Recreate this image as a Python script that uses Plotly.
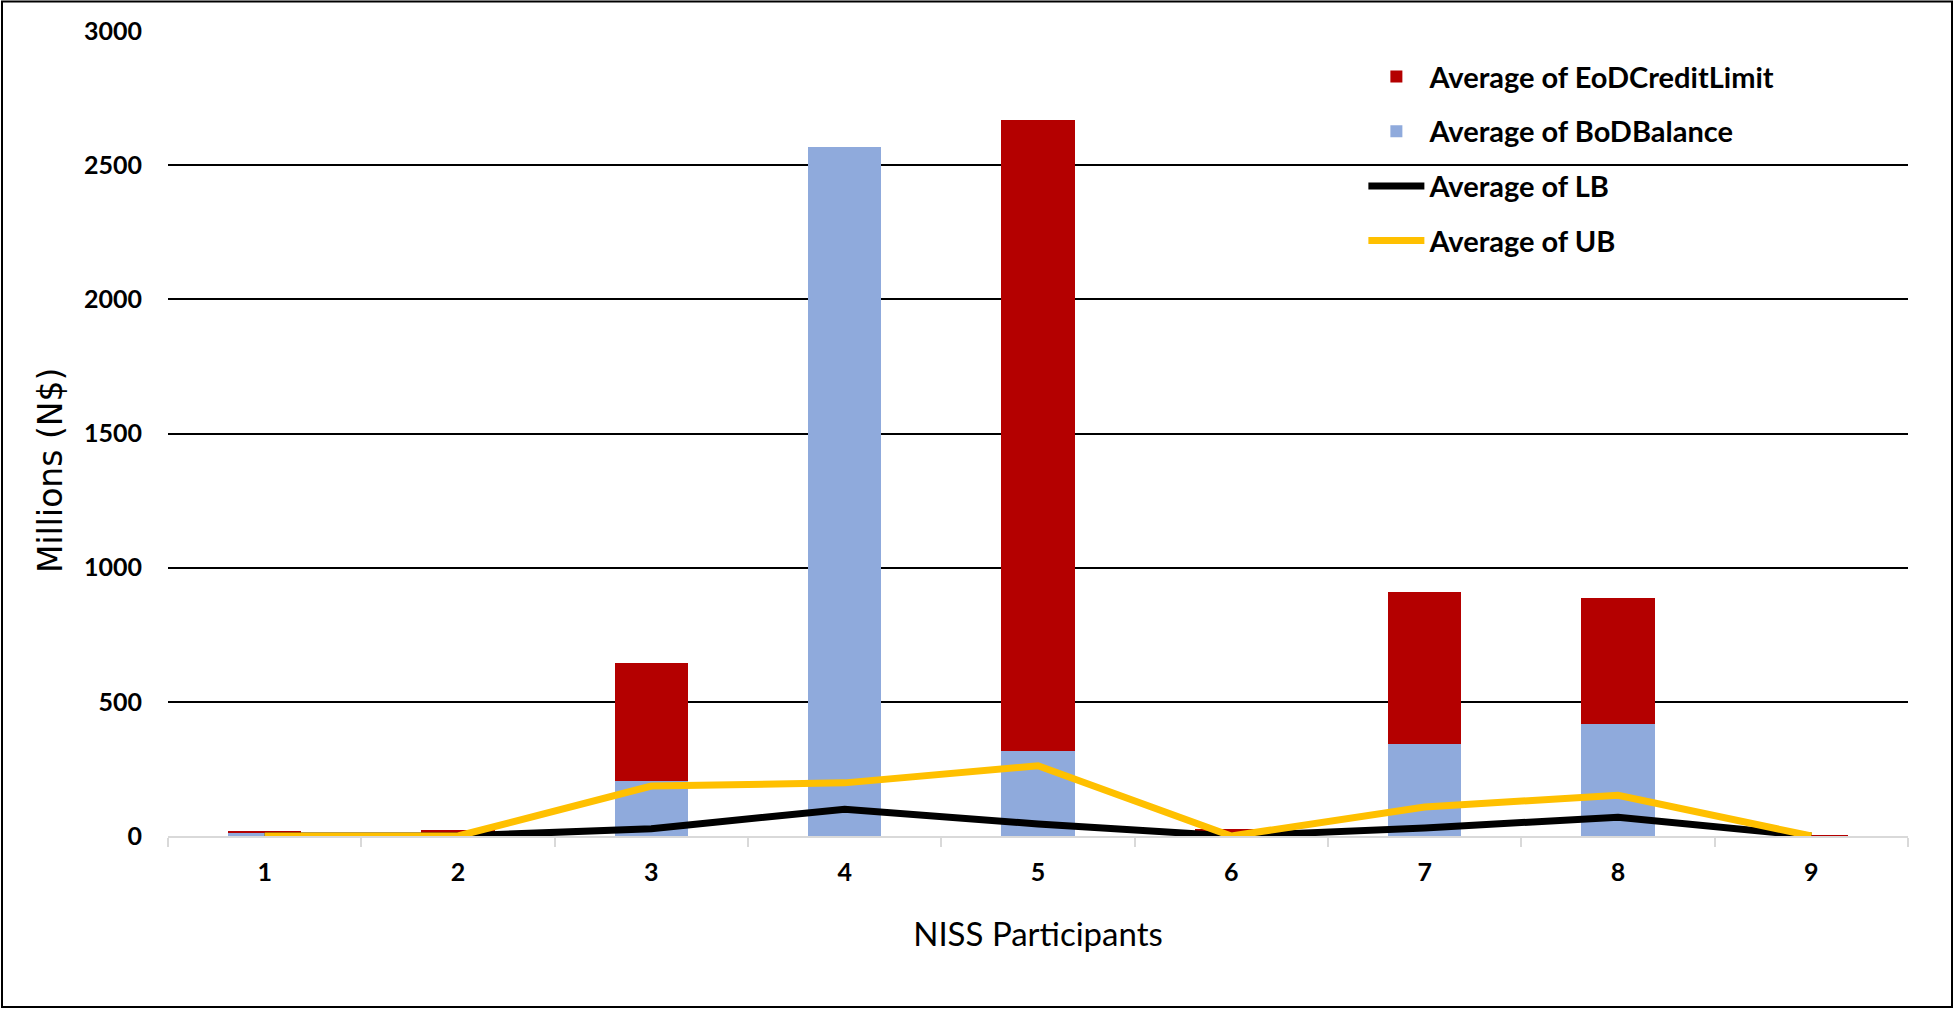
import plotly.graph_objects as go

categories = ["1", "2", "3", "4", "5", "6", "7", "8", "9"]
bod_balance = [14, 12, 205, 2568, 317, 2, 343, 417, 1]
eod_credit_limit = [1, 12, 440, 0, 2353, 23, 566, 470, 2]
lb = [0, 0, 27, 100, 45, 0, 30, 70, 0]
ub = [0, 0, 186, 198, 262, 0, 108, 152, 0]
y_ticks = [0, 500, 1000, 1500, 2000, 2500, 3000]

RED = "#b40000"
BLUE = "#8faadc"
YEL = "#ffc000"
FONT = "Lato"

fig = go.Figure()
fig.add_trace(go.Bar(x=categories, y=bod_balance, name="Average of BoDBalance",
                     marker=dict(color=BLUE, line=dict(width=0)), legendrank=2,
                     legendgroup="b"))
fig.add_trace(go.Bar(x=categories, y=eod_credit_limit, name="Average of EoDCreditLimit",
                     marker=dict(color=RED, line=dict(width=0)), legendrank=1,
                     legendgroup="a"))
fig.add_trace(go.Scatter(x=categories, y=lb, name="Average of LB", mode="lines",
                         line=dict(color="black", width=7), legendrank=3,
                         legendgroup="c"))
fig.add_trace(go.Scatter(x=categories, y=ub, name="Average of UB", mode="lines",
                         line=dict(color=YEL, width=7), legendrank=4,
                         legendgroup="d"))

L, R, T, B = 168, 1908, 31, 836
def px(x):
    return (x - L) / (R - L)
def py(y):
    return (B - y) / (B - T)

fig.update_layout(
    width=1954, height=1009,
    margin=dict(l=168, r=46, t=31, b=173, pad=0),
    paper_bgcolor="white", plot_bgcolor="white",
    barmode="stack", bargap=0.62,
    font=dict(family=FONT, color="black"),
    showlegend=True,
    legend=dict(x=0.687, y=0.975, xanchor="left", yanchor="top",
                font=dict(family=FONT, size=29, color="black", weight="bold"),
                bgcolor="rgba(0,0,0,0)", tracegroupgap=14, itemwidth=56,
                traceorder="grouped"),
    xaxis=dict(
        type="category", showgrid=False, showline=True, linecolor="#d9d9d9", linewidth=1.5,
        ticks="outside", tickson="boundaries", ticklen=9, tickcolor="#d9d9d9", tickwidth=1.5,
        tickfont=dict(family=FONT, size=25, color="black", weight="bold"),
        ticklabelstandoff=13,
        title=dict(text="NISS Participants", font=dict(family=FONT, size=33, color="black"),
                   standoff=38),
        automargin=False, fixedrange=True,
    ),
    yaxis=dict(
        range=[0, 3000], tickvals=y_ticks, ticktext=[str(v) for v in y_ticks],
        showgrid=True, gridcolor="black", gridwidth=1.5, zeroline=False, showline=False,
        ticks="", tickfont=dict(family=FONT, size=25, color="black", weight="bold"),
        ticklabelstandoff=25,
        automargin=False, fixedrange=True,
    ),
    annotations=[dict(
        text="Millions (N$)", textangle=-90, showarrow=False,
        xref="paper", yref="paper", x=px(50), y=py(470),
        xanchor="center", yanchor="middle",
        font=dict(family="DejaVu Sans, Verdana, sans-serif", size=33, color="black"),
    )],
)

# outer frame of the chart area
fig.add_shape(type="rect", xref="paper", yref="paper",
              x0=px(2), x1=px(1952), y0=py(1007), y1=py(1.5),
              line=dict(color="black", width=2), fillcolor="rgba(0,0,0,0)", layer="below")

fig.write_html("out.html", config={"displayModeBar": False},
               post_script="document.body.style.margin='0';document.body.style.padding='0';document.body.style.overflow='hidden';")
